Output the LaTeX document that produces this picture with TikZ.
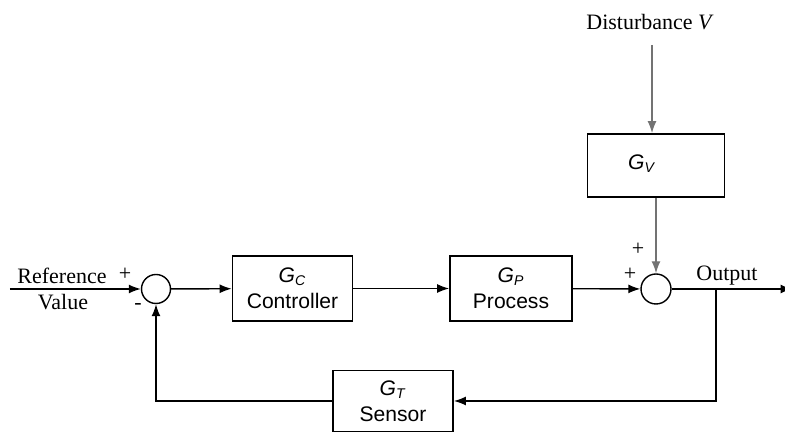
\documentclass[tikz,border=0pt]{standalone}
\usepackage{fontspec}
\setmainfont{Liberation Serif}
\setsansfont{Liberation Sans}
\usetikzlibrary{arrows.meta}
\newcommand{\gsub}[1]{\textit{G}\textsubscript{\textit{#1}}}
\begin{document}
\begin{tikzpicture}[font=\fontsize{12.5}{14}\selectfont]
		\tikzset{blk/.style={rectangle, draw=black, line width=1pt, minimum width=2.4cm, minimum height=1.3cm, align=center, inner sep=2pt, font=\sffamily\fontsize{12}{15}\selectfont}};
		\tikzset{sum/.style={circle, draw=black, line width=0.8pt, minimum size=0.58cm, inner sep=0pt}};
		\tikzset{sig/.style={line width=0.8pt, -{Latex[length=2.4mm, width=1.8mm]}}};
		\tikzset{lbl/.style={inner sep=0pt}};

		\useasboundingbox (0, 0) rectangle (15.7, 8.64);

		\node[sum] (s1) at (3.12, 2.86) {};
		\node[blk] (gc) at (5.85, 2.87) {\gsub{C}\\Controller};
		\node[blk, minimum width=2.44cm] (gp) at (10.22, 2.87) {\gsub{P}\\Process};
		\node[sum, minimum size=0.6cm] (s2) at (13.12, 2.86) {};
		\node[blk, minimum width=2.74cm, minimum height=1.26cm] (gv) at (13.12, 5.33) {};
		\node[lbl, font=\sffamily\fontsize{12}{15}\selectfont] (gvtxt) at (12.84, 5.36) {\gsub{V}};
		\node[blk, minimum height=1.22cm] (gt) at (7.86, 0.62) {\gsub{T}\\Sensor};

		\coordinate (ref) at (0.2, 2.86);
		\coordinate (dist) at (13.04, 7.74);
		\coordinate (br) at (14.32, 2.86);
		\coordinate (out) at (15.85, 2.86);

		\node[lbl] (reftxt) at (1.24, 3.12) {Reference};
		\node[lbl] (valtxt) at (1.26, 2.6) {Value};
		\node[lbl] (disttxt) at (13.0, 8.2) {Disturbance \textit{V}};
		\node[lbl] (outtxt) at (14.54, 3.12) {Output};
		\node[lbl] (p1) at (2.5, 3.16) {+};
		\node[lbl] (m1) at (2.76, 2.5) {-};
		\node[lbl] (p2) at (12.6, 3.16) {+};
		\node[lbl] (p3) at (12.76, 3.66) {+};

		\draw[sig] (ref) to (s1);
		\draw[sig] (s1) to (gc);
		\draw[sig] (gc) to (gp);
		\draw[sig] (gp) to (s2);

		\draw[sig, draw=black!55] (dist) to (gv.north -| dist);
		\draw[sig, draw=black!55] (gv) to (s2);

		\draw[sig] (s2) to (out);
		\draw[sig] (br) |- (gt);
		\draw[sig] (gt) -| (s1);
	\end{tikzpicture}
\end{document}
